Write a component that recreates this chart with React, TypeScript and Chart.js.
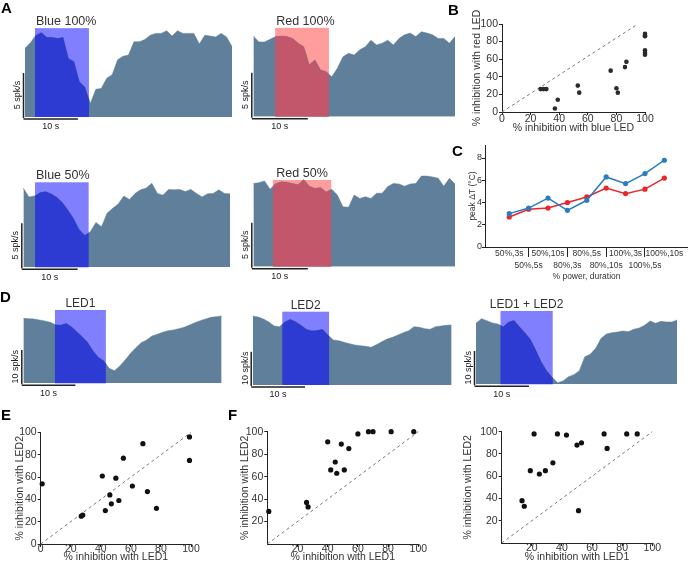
import React, { useEffect, useRef } from "react";
import { Chart, registerables } from "chart.js";
Chart.register(...registerables);

const FONT = "'Liberation Sans', Arial, Helvetica, sans-serif";
Chart.defaults.font.family = FONT;

// ---------------- DATA ----------------
// Panel A: firing-rate traces (spk/s, 1 s bins)
const blue100Rate = [7.8, 8.45, 9.3, 9.6, 9.05, 9.05, 8.95, 9.05, 6.65, 6.3, 4.0, 3.4, 1.55, 3.15, 3.25, 4.4, 4.8, 6.5, 6.9, 7.05, 8.55, 8.55, 8.8, 9.3, 9.5, 9.5, 9.8, 9.2, 9.8, 9.5, 9.5, 9.5, 8.3, 9.3, 9.2, 9.1, 9.5, 9.1, 8.0];
const red100Rate = [9.17, 8.5, 8.5, 8.8, 9.1, 9.17, 9.1, 8.9, 8.35, 7.95, 5.9, 6.45, 5.3, 5.1, 4.55, 5.5, 6.8, 7.2, 7.0, 7.6, 7.95, 8.7, 8.15, 8.35, 8.7, 8.15, 8.9, 9.3, 9.5, 9.1, 9.65, 9.5, 9.3, 8.9, 8.9, 8.35, 9.1];
const blue50Rate = [9.0, 8.0, 8.1, 8.5, 8.6, 8.35, 7.95, 7.35, 6.5, 5.55, 4.3, 3.65, 4.05, 5.1, 4.6, 6.15, 6.7, 7.2, 8.1, 7.7, 8.4, 8.8, 9.0, 9.55, 8.4, 8.2, 8.85, 8.8, 8.85, 8.6, 8.85, 8.4, 8.0, 8.35, 8.4, 8.8, 8.4, 8.35];
const red50Rate = [9.45, 9.55, 9.75, 8.8, 9.45, 9.65, 9.6, 9.45, 9.3, 9.9, 9.15, 8.9, 9.0, 8.5, 8.8, 8.15, 6.8, 6.75, 8.15, 7.75, 7.95, 7.75, 8.35, 8.35, 9.1, 9.45, 9.4, 9.15, 9.4, 9.45, 10.3, 10.3, 10.2, 10.05, 9.15, 10.05, 9.4];
const blue100Stim = [1.83, 11.74];
const red100Stim = [3.9, 13.5];
const blue50Stim = [2.1, 11.7];
const red50Stim = [3.5, 13.9];
const blue100RectTop = 10.1;
const red100RectTop = 10.1;
const blue50RectTop = 9.66;
const red50RectTop = 9.85;

// Panel D traces (spk/s, 1 s bins)
const led1Rate = [19.5, 19.4, 19.3, 19.0, 18.7, 18.3, 17.6, 17.5, 18.0, 17.0, 15.5, 14.0, 12.3, 9.8, 7.8, 6.8, 4.5, 3.8, 5.2, 7.0, 9.0, 10.7, 12.2, 13.0, 14.2, 14.7, 15.3, 15.8, 16.0, 16.4, 16.8, 17.5, 18.2, 18.8, 19.3, 19.8, 20.0, 20.2];
const led2Rate = [20.7, 20.4, 19.8, 18.9, 17.7, 17.5, 19.0, 19.7, 19.0, 17.9, 16.7, 16.3, 16.4, 16.7, 15.0, 13.5, 13.3, 12.8, 12.4, 12.0, 11.8, 11.6, 11.3, 12.1, 13.0, 13.8, 14.3, 15.0, 15.7, 16.3, 17.5, 17.3, 16.9, 16.7, 17.5, 17.7, 17.9, 18.0];
const led12Rate = [18.3, 19.7, 19.1, 18.4, 18.1, 17.3, 18.7, 19.2, 17.3, 15.5, 13.5, 10.3, 6.8, 4.1, 2.1, 0.5, 1.0, 2.3, 2.9, 4.1, 8.3, 9.0, 10.8, 13.8, 15.1, 15.5, 15.7, 16.0, 15.8, 16.5, 16.9, 17.7, 19.0, 18.3, 18.9, 18.7, 18.7, 19.3];
const led1Stim = [5.9, 15.4];
const led2Stim = [5.5, 14.2];
const led12Stim = [4.5, 14.1];
const ledRectTop = 22;

// Panel B
const blueInhibition = [27, 29, 31, 37, 39, 53, 54, 76, 80, 81, 86, 87, 100, 100, 100, 100, 100, 100];
const redInhibition = [26, 26, 26, 4, 14, 30, 22, 47, 27, 22, 51, 57, 89, 87, 86, 70, 67, 65];
const bRefX = [0, 95];
const bRefY = [0, 100];

// Panel C
const conditions = ["50%,3s", "50%,5s", "50%,10s", "80%,3s", "80%,5s", "80%,10s", "100%,3s", "100%,5s", "100%,10s"];
const blueDeltaT = [3.0, 3.5, 4.4, 3.3, 4.2, 6.3, 5.7, 6.6, 7.8];
const redDeltaT = [2.7, 3.4, 3.5, 4.0, 4.5, 5.3, 4.8, 5.2, 6.2];
const cYTicks = [0, 2, 4, 6, 8];

// Panel E
const eLed1 = [1, 27, 28, 41, 43, 46, 47, 50, 52, 55, 61, 68, 71, 77, 99, 99];
const eLed2 = [54, 25, 26, 61, 30, 44, 36, 59, 39, 77, 52, 90, 47, 32, 96, 75];
// Panel F (left)
const f1Led1 = [1, 26, 27, 40, 42, 45, 46, 49, 51, 54, 60, 67, 70, 82, 97];
const f1Led2 = [29, 37, 33, 91, 66, 73, 63, 89, 66, 85, 98, 100, 100, 100, 100];
// Panel F (right)
const f2Led1 = [13.5, 15, 19, 21.5, 25, 29, 34, 37, 43, 50, 53, 51, 68, 70, 83, 90];
const f2Led2 = [38, 33, 65, 98, 62, 65, 72, 98, 97, 88, 90, 29, 98, 85, 98, 98];
const identity = [0, 100];
const ticksFull = [0, 20, 40, 60, 80, 100];
const ticksNoZero = [20, 40, 60, 80, 100];

const SCALE_BAR_SEC = 10;

// ---------------- STYLE ----------------
const TRACE = "#5f7f9b";
const BLUE_LIGHT = "#8080ff";
const BLUE_DARK = "#2e3bd3";
const RED_LIGHT = "#ff9c9c";
const RED_DARK = "#c2576b";
const INK = "#222";
const TXT = "#333";

type Box = { l: number; t: number; w: number; h: number };

interface TraceSpec {
  box: Box;
  area: { l: number; r: number; b: number };
  ppu: number;
  yMax: number;
  values: number[];
  stim: number[];
  rectTop: number;
  light: string;
  dark: string;
  title: string;
  titleSize: number;
  titleAlign: "left" | "center";
  yBar: number;
  yBarLabel: string;
}

function traceConfig(s: TraceSpec): any {
  const areaTop = s.area.b - s.yMax * s.ppu;
  const padding = {
    left: s.area.l - s.box.l,
    right: s.box.l + s.box.w - s.area.r,
    top: areaTop - s.box.t,
    bottom: s.box.t + s.box.h - s.area.b,
  };
  const plugin = {
    id: "trace",
    beforeDatasetsDraw(chart: any) {
      const { ctx, scales } = chart;
      const x0 = scales.x.getPixelForValue(s.stim[0]);
      const x1 = scales.x.getPixelForValue(s.stim[1]);
      const yt = scales.y.getPixelForValue(s.rectTop);
      const yb = scales.y.getPixelForValue(0);
      ctx.save();
      ctx.fillStyle = s.light;
      ctx.fillRect(x0, yt, x1 - x0, yb - yt);
      ctx.restore();
    },
    afterDatasetsDraw(chart: any) {
      const { ctx, scales } = chart;
      const x = scales.x;
      const y = scales.y;
      const x0 = x.getPixelForValue(s.stim[0]);
      const x1 = x.getPixelForValue(s.stim[1]);
      const yt = y.getPixelForValue(s.rectTop);
      const yb = y.getPixelForValue(0);
      const pts = chart.getDatasetMeta(0).data;
      ctx.save();
      ctx.beginPath();
      ctx.rect(x0, 0, x1 - x0, yb);
      ctx.clip();
      ctx.beginPath();
      ctx.moveTo(pts[0].x, yb);
      pts.forEach((p: any) => ctx.lineTo(p.x, p.y));
      ctx.lineTo(pts[pts.length - 1].x, yb);
      ctx.closePath();
      ctx.fillStyle = s.dark;
      ctx.fill();
      ctx.restore();

      ctx.save();
      ctx.font = `${s.titleSize}px ${FONT}`;
      ctx.fillStyle = TXT;
      ctx.textAlign = s.titleAlign;
      ctx.textBaseline = "alphabetic";
      ctx.fillText(s.title, s.titleAlign === "left" ? x0 + 1 : (x0 + x1) / 2, yt - 3);
      ctx.restore();

      const bx = x.left - 1.5;
      const by = yb + 2;
      const yv = y.getPixelForValue(s.yBar);
      const xs = x.getPixelForValue(SCALE_BAR_SEC) - x.getPixelForValue(0);
      ctx.save();
      ctx.strokeStyle = INK;
      ctx.lineWidth = 1.5;
      ctx.beginPath();
      ctx.moveTo(bx, yv);
      ctx.lineTo(bx, yb + 1);
      ctx.moveTo(bx, by);
      ctx.lineTo(bx + xs, by);
      ctx.stroke();
      ctx.font = `9px ${FONT}`;
      ctx.fillStyle = INK;
      ctx.textAlign = "center";
      ctx.textBaseline = "middle";
      ctx.fillText(`${SCALE_BAR_SEC} s`, bx + xs / 2, by + 8);
      ctx.translate(bx - 6, (yv + yb) / 2);
      ctx.rotate(-Math.PI / 2);
      ctx.fillText(s.yBarLabel, 0, 0);
      ctx.restore();
    },
  };
  return {
    type: "line",
    data: {
      labels: s.values.map((_, i) => i),
      datasets: [
        {
          data: s.values,
          fill: "origin",
          backgroundColor: TRACE,
          borderColor: TRACE,
          borderWidth: 0.5,
          pointRadius: 0,
          tension: 0,
        },
      ],
    },
    options: {
      animation: false,
      responsive: false,
      events: [],
      layout: { padding, autoPadding: false },
      plugins: { legend: { display: false }, tooltip: { enabled: false } },
      scales: {
        x: { type: "category", display: false, offset: false },
        y: { type: "linear", display: false, min: 0, max: s.yMax },
      },
    },
    plugins: [plugin],
  };
}

const fixW = (w: number) => (sc: any) => {
  sc.width = w;
  sc.paddingLeft = 0;
  sc.paddingRight = 0;
  sc.paddingTop = 0;
  sc.paddingBottom = 0;
};
const fixH = (h: number) => (sc: any) => {
  sc.height = h;
  sc.paddingLeft = 0;
  sc.paddingRight = 0;
  sc.paddingTop = 0;
  sc.paddingBottom = 0;
};

interface ScatterSpec {
  box: Box;
  area: { l: number; t: number; r: number; b: number };
  yTitleX: number;
  xTitleY: number;
  titleSize: number;
  tickSize: number;
  xs: number[];
  ys: number[];
  refX: number[];
  refY: number[];
  xTitle: string;
  yTitle: string;
  xTicks: number[];
  yTicks: number[];
  radius: number;
  dot: string;
  xTickPad: number;
}

function scatterConfig(p: ScatterSpec): any {
  const lh = p.titleSize * 1.2;
  const axisLeft = p.yTitleX - lh / 2;
  const axisBottom = p.xTitleY + lh / 2;
  const padding = {
    left: axisLeft - p.box.l,
    top: p.area.t - p.box.t,
    right: p.box.l + p.box.w - p.area.r,
    bottom: p.box.t + p.box.h - axisBottom,
  };
  const tickFont = { size: p.tickSize, family: FONT };
  const titleFont = { size: p.titleSize, family: FONT, lineHeight: 1.2 };
  return {
    type: "scatter",
    data: {
      datasets: [
        {
          type: "scatter",
          data: p.xs.map((x, i) => ({ x, y: p.ys[i] })),
          pointRadius: p.radius,
          backgroundColor: p.dot,
          borderWidth: 0,
          clip: false,
        },
        {
          type: "line",
          data: p.refX.map((x, i) => ({ x, y: p.refY[i] })),
          borderColor: "#777",
          borderWidth: 1,
          borderDash: [3, 3],
          pointRadius: 0,
          fill: false,
          clip: false,
        },
      ],
    },
    options: {
      animation: false,
      responsive: false,
      events: [],
      layout: { padding, autoPadding: false },
      plugins: { legend: { display: false }, tooltip: { enabled: false } },
      scales: {
        x: {
          type: "linear",
          min: 0,
          max: 100,
          afterBuildTicks: (sc: any) => {
            sc.ticks = p.xTicks.map((v) => ({ value: v }));
          },
          afterFit: fixH(axisBottom - p.area.b),
          grid: { drawOnChartArea: false, tickLength: 3, color: INK },
          border: { color: INK },
          ticks: { font: tickFont, color: TXT, padding: p.xTickPad, autoSkip: false, maxRotation: 0 },
          title: { display: true, text: p.xTitle, font: titleFont, color: TXT, padding: 0 },
        },
        y: {
          type: "linear",
          min: 0,
          max: 100,
          afterBuildTicks: (sc: any) => {
            sc.ticks = p.yTicks.map((v) => ({ value: v }));
          },
          afterFit: fixW(p.area.l - axisLeft),
          grid: { drawOnChartArea: false, tickLength: 3, color: INK },
          border: { color: INK },
          ticks: { font: tickFont, color: TXT, padding: 1, autoSkip: false },
          title: { display: true, text: p.yTitle, font: titleFont, color: TXT, padding: 0 },
        },
      },
    },
  };
}

function lineCConfig(): any {
  const box = { l: 440, t: 140, w: 248, h: 150 };
  const area = { l: 485, t: 145, r: 688, b: 247 };
  const titleSize = 8.5;
  const lh = titleSize * 1.2;
  const axisLeft = 473 - lh / 2;
  const axisBottom = 276.7 + lh / 2;
  const padding = {
    left: axisLeft - box.l,
    top: area.t - box.t,
    right: box.l + box.w - area.r,
    bottom: box.t + box.h - axisBottom,
  };
  const idx = conditions.map((_, i) => i);
  return {
    type: "line",
    data: {
      datasets: [
        {
          data: idx.map((i) => ({ x: i, y: blueDeltaT[i] })),
          borderColor: "#2a7dbf",
          backgroundColor: "#2a7dbf",
          borderWidth: 1.5,
          pointRadius: 2.6,
          pointBorderWidth: 0,
          tension: 0,
          clip: false,
        },
        {
          data: idx.map((i) => ({ x: i, y: redDeltaT[i] })),
          borderColor: "#e8262b",
          backgroundColor: "#e8262b",
          borderWidth: 1.5,
          pointRadius: 2.6,
          pointBorderWidth: 0,
          tension: 0,
          clip: false,
        },
      ],
    },
    options: {
      animation: false,
      responsive: false,
      events: [],
      layout: { padding, autoPadding: false },
      plugins: { legend: { display: false }, tooltip: { enabled: false } },
      scales: {
        x: {
          type: "linear",
          min: -1.25,
          max: 9.22,
          afterBuildTicks: (sc: any) => {
            sc.ticks = idx.map((v) => ({ value: v }));
          },
          afterFit: fixH(axisBottom - area.b),
          grid: {
            drawOnChartArea: false,
            tickLength: 10,
            color: (c: any) => (c.index % 2 === 1 ? INK : "rgba(0,0,0,0)"),
          },
          border: { color: INK },
          ticks: {
            font: { size: 8.5, family: FONT, lineHeight: 1.5 },
            color: TXT,
            padding: -10,
            autoSkip: false,
            maxRotation: 0,
            callback: (_v: any, i: number) => (i % 2 === 0 ? [conditions[i], ""] : ["", conditions[i]]),
          },
          title: { display: true, text: "% power, duration", font: { size: titleSize, family: FONT, lineHeight: 1.2 }, color: TXT, padding: 0 },
        },
        y: {
          type: "linear",
          min: 0,
          max: 9.17,
          afterBuildTicks: (sc: any) => {
            sc.ticks = cYTicks.map((v) => ({ value: v }));
          },
          afterFit: fixW(area.l - axisLeft),
          grid: { drawOnChartArea: false, tickLength: 3, color: INK },
          border: { color: INK },
          ticks: { font: { size: 9, family: FONT }, color: TXT, padding: 0, autoSkip: false },
          title: { display: true, text: "peak ΔT (°C)", font: { size: titleSize, family: FONT, lineHeight: 1.2 }, color: TXT, padding: 0 },
        },
      },
    },
  };
}

// ---------------- LAYOUT ----------------
const A_Y = 10.6;
const D_Y = 23;
const traceSpecs: TraceSpec[] = [
  { box: { l: 0, t: 0, w: 240, h: 140 }, area: { l: 25, r: 232, b: 117 }, ppu: 8.8, yMax: A_Y, values: blue100Rate, stim: blue100Stim, rectTop: blue100RectTop, light: BLUE_LIGHT, dark: BLUE_DARK, title: "Blue 100%", titleSize: 12.5, titleAlign: "left", yBar: 5, yBarLabel: "5 spk/s" },
  { box: { l: 240, t: 0, w: 220, h: 140 }, area: { l: 253.3, r: 455, b: 116.7 }, ppu: 8.8, yMax: A_Y, values: red100Rate, stim: red100Stim, rectTop: red100RectTop, light: RED_LIGHT, dark: RED_DARK, title: "Red 100%", titleSize: 12.5, titleAlign: "left", yBar: 5, yBarLabel: "5 spk/s" },
  { box: { l: 0, t: 140, w: 240, h: 150 }, area: { l: 23.3, r: 230, b: 267.3 }, ppu: 8.8, yMax: A_Y, values: blue50Rate, stim: blue50Stim, rectTop: blue50RectTop, light: BLUE_LIGHT, dark: BLUE_DARK, title: "Blue 50%", titleSize: 12.5, titleAlign: "left", yBar: 5, yBarLabel: "5 spk/s" },
  { box: { l: 240, t: 140, w: 220, h: 150 }, area: { l: 253.3, r: 455, b: 266.7 }, ppu: 8.8, yMax: A_Y, values: red50Rate, stim: red50Stim, rectTop: red50RectTop, light: RED_LIGHT, dark: RED_DARK, title: "Red 50%", titleSize: 12.5, titleAlign: "center", yBar: 5, yBarLabel: "5 spk/s" },
  { box: { l: 0, t: 285, w: 240, h: 120 }, area: { l: 23.3, r: 221.7, b: 383.3 }, ppu: 3.333, yMax: D_Y, values: led1Rate, stim: led1Stim, rectTop: ledRectTop, light: BLUE_LIGHT, dark: BLUE_DARK, title: "LED1", titleSize: 12, titleAlign: "center", yBar: 10, yBarLabel: "10 spk/s" },
  { box: { l: 235, t: 285, w: 225, h: 120 }, area: { l: 252.7, r: 451.7, b: 385 }, ppu: 3.333, yMax: D_Y, values: led2Rate, stim: led2Stim, rectTop: ledRectTop, light: BLUE_LIGHT, dark: BLUE_DARK, title: "LED2", titleSize: 12, titleAlign: "center", yBar: 10, yBarLabel: "10 spk/s" },
  { box: { l: 460, t: 285, w: 228, h: 120 }, area: { l: 476, r: 677.3, b: 384.3 }, ppu: 3.333, yMax: D_Y, values: led12Rate, stim: led12Stim, rectTop: ledRectTop, light: BLUE_LIGHT, dark: BLUE_DARK, title: "LED1 + LED2", titleSize: 12, titleAlign: "center", yBar: 10, yBarLabel: "10 spk/s" },
];

const scatterSpecs: ScatterSpec[] = [
  { box: { l: 440, t: 0, w: 248, h: 140 }, area: { l: 502, t: 24, r: 645, b: 112 }, yTitleX: 477, xTitleY: 128, titleSize: 10.5, tickSize: 10.5, xs: blueInhibition, ys: redInhibition, refX: bRefX, refY: bRefY, xTitle: "% inhibition with blue LED", yTitle: "% inhibition with red LED", xTicks: ticksFull, yTicks: ticksFull, radius: 2.3, dot: "#2a2a2a", xTickPad: -2 },
  { box: { l: 0, t: 400, w: 230, h: 169 }, area: { l: 40.7, t: 432.5, r: 191, b: 544 }, yTitleX: 20, xTitleY: 557.5, titleSize: 10.5, tickSize: 10.5, xs: eLed1, ys: eLed2, refX: identity, refY: identity, xTitle: "% inhibition with LED1", yTitle: "% inhibition with LED2", xTicks: ticksFull, yTicks: ticksFull, radius: 2.6, dot: "#111", xTickPad: -4 },
  { box: { l: 230, t: 400, w: 230, h: 169 }, area: { l: 267.3, t: 431.7, r: 418.3, b: 544 }, yTitleX: 245, xTitleY: 557.5, titleSize: 10.5, tickSize: 10.5, xs: f1Led1, ys: f1Led2, refX: identity, refY: identity, xTitle: "% inhibition with LED1", yTitle: "% inhibition with LED2", xTicks: ticksNoZero, yTicks: ticksNoZero, radius: 2.6, dot: "#111", xTickPad: -4 },
  { box: { l: 460, t: 400, w: 228, h: 169 }, area: { l: 501.7, t: 431.7, r: 652.3, b: 543 }, yTitleX: 468, xTitleY: 557.5, titleSize: 10.5, tickSize: 10.5, xs: f2Led1, ys: f2Led2, refX: identity, refY: identity, xTitle: "% inhibition with LED1", yTitle: "% inhibition with LED2", xTicks: ticksNoZero, yTicks: ticksNoZero, radius: 2.6, dot: "#111", xTickPad: -4 },
];

const panelLetters = [
  { t: "A", l: 1, top: 0 },
  { t: "B", l: 448, top: 2 },
  { t: "C", l: 452, top: 143 },
  { t: "D", l: 0, top: 289 },
  { t: "E", l: 1, top: 407 },
  { t: "F", l: 228, top: 407 },
];

function ChartCanvas({ box, build }: { box: Box; build: () => any }) {
  const ref = useRef<HTMLCanvasElement | null>(null);
  useEffect(() => {
    if (!ref.current) return;
    const chart = new Chart(ref.current, build());
    return () => chart.destroy();
  }, [build]);
  return (
    <canvas
      ref={ref}
      width={box.w}
      height={box.h}
      style={{ position: "absolute", left: box.l, top: box.t, width: box.w, height: box.h }}
    />
  );
}

const traceBuilders = traceSpecs.map((s) => () => traceConfig(s));
const scatterBuilders = scatterSpecs.map((s) => () => scatterConfig(s));

export default function App() {
  return (
    <div
      style={{
        position: "absolute",
        left: 0,
        top: 0,
        width: 688,
        height: 569,
        background: "#fff",
        overflow: "hidden",
        fontFamily: FONT,
      }}
    >
      {traceSpecs.map((s, i) => (
        <ChartCanvas key={"t" + i} box={s.box} build={traceBuilders[i]} />
      ))}
      {scatterSpecs.map((s, i) => (
        <ChartCanvas key={"s" + i} box={s.box} build={scatterBuilders[i]} />
      ))}
      <ChartCanvas box={{ l: 440, t: 140, w: 248, h: 150 }} build={lineCConfig} />
      {panelLetters.map((p) => (
        <div
          key={p.t}
          style={{
            position: "absolute",
            left: p.l,
            top: p.top,
            fontWeight: "bold",
            fontSize: 15,
            lineHeight: "15px",
            color: "#000",
          }}
        >
          {p.t}
        </div>
      ))}
    </div>
  );
}
